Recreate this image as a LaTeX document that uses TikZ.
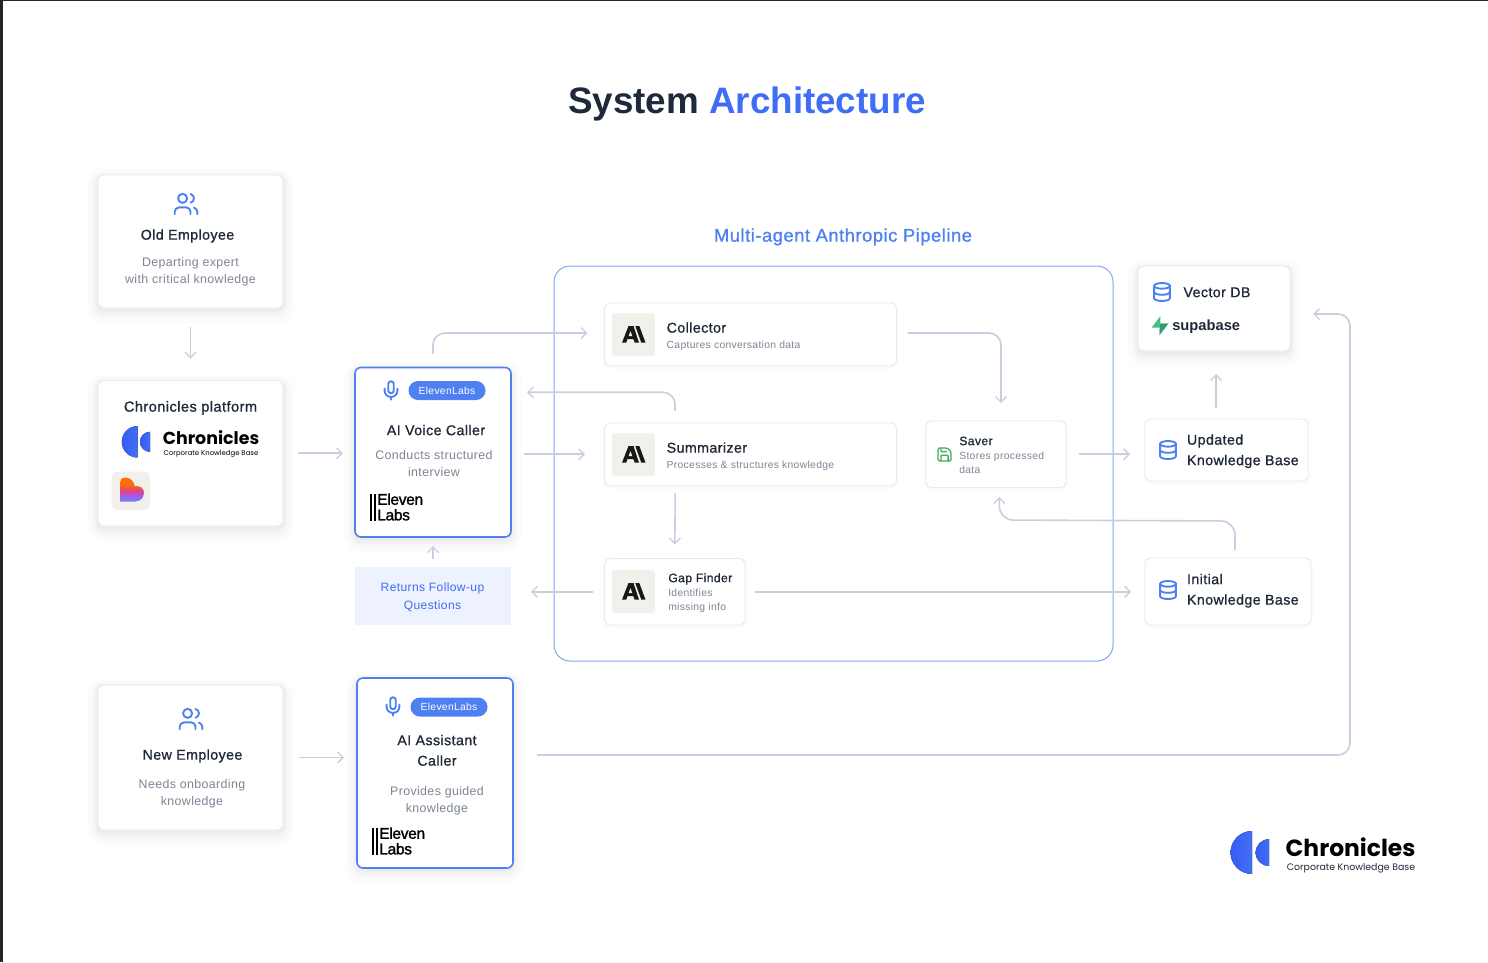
\documentclass[tikz,border=0pt]{standalone}
\usepackage{fontspec}
\usetikzlibrary{arrows.meta,calc}
\setmainfont{Liberation Sans}
\newfontfamily\bodyf[LetterSpace=3]{Liberation Sans}
\newfontfamily\medf[FakeBold=1,LetterSpace=3]{Liberation Sans}
\newfontfamily\elevenf[FakeBold=1.5,LetterSpace=-2]{Liberation Sans}
\newfontfamily\titlebase{Liberation Sans}
\newcommand{\titlef}{\titlebase\bfseries}
\newfontfamily\logobase{Poppins}
\newcommand{\logof}{\logobase\bfseries}
\newcommand{\logosub}{\logobase}
\definecolor{ink}{HTML}{1F2937}
\definecolor{titleink}{HTML}{1E293B}
\definecolor{muted}{HTML}{7C8594}
\definecolor{accent}{HTML}{3F6DF3}
\definecolor{brand}{HTML}{4F80F2}
\definecolor{cardline}{HTML}{E7EAF0}
\definecolor{wire}{HTML}{C8D0DF}
\definecolor{chip}{HTML}{F1F0EB}
\definecolor{savegreen}{HTML}{45AC5F}
\definecolor{heartA}{HTML}{F97008}
\definecolor{heartB}{HTML}{E8407F}
\definecolor{heartC}{HTML}{A05CE8}
\definecolor{heartD}{HTML}{6B82FA}
\definecolor{supaA}{HTML}{4CBB86}
\definecolor{supaB}{HTML}{2E9E6E}
\pgfdeclareverticalshading{heartshade}{100bp}{color(0bp)=(heartD);color(25bp)=(heartD);color(37bp)=(heartC);color(48bp)=(heartB);color(60bp)=(heartA);color(100bp)=(heartA)}
\newcommand{\fsz}[2]{\fontsize{#1}{#2}\selectfont}
\tikzset{
 softshadow/.style={
  preaction={draw=black,draw opacity=.012,line width=22pt,transform canvas={yshift=-5pt}},
  preaction={draw=black,draw opacity=.016,line width=14pt,transform canvas={yshift=-4pt}},
  preaction={draw=black,draw opacity=.022,line width=8pt,transform canvas={yshift=-3pt}},
  preaction={draw=black,draw opacity=.025,line width=3pt,transform canvas={yshift=-2pt}}},
 lightshadow/.style={
  preaction={draw=black,draw opacity=.015,line width=4pt,transform canvas={yshift=-1pt}}},
 box/.style={rectangle,rounded corners=6pt,inner sep=0pt,outer sep=0pt,fill=white,draw=cardline,line width=.9pt},
 bigcard/.style={box,softshadow},
 smallcard/.style={box,lightshadow},
 callercard/.style={box,softshadow,draw=brand,line width=1.6pt},
 txt/.style={inner sep=0pt,outer sep=0pt,anchor=mid},
 ltxt/.style={inner sep=0pt,outer sep=0pt,anchor=mid west},
 headc/.style={txt,text=ink,font=\medf\fsz{14.2}{20.5},align=center},
 headl/.style={ltxt,text=ink,font=\medf\fsz{14.2}{20.5},align=left},
 subc/.style={txt,text=muted,font=\bodyf\fsz{12.4}{17},align=center},
 tiny/.style={ltxt,text=muted,font=\bodyf\fsz{10.35}{13.8},align=left},
 wirearrow/.style={draw=wire,line width=1.6pt,-{Straight Barb[length=5.5pt,width=11pt,line width=1.4pt]}},
 iconline/.style={draw=brand,line width=1.9pt,line cap=round,line join=round,fill=none},
}
\newcommand{\usersicon}[2]{\begin{scope}[shift={(#1,#2)},x=1.13pt,y=-1.13pt,shift={(-12,-12)}]
 \draw[iconline] (9,7) circle[radius=4];
 \draw[iconline,rounded corners=4.4pt] (2,21)--(2,15)--(16,15)--(16,21);
 \draw[iconline] (16,3.13) .. controls (18,3.6) and (19,5.2) .. (19,7) .. controls (19,8.8) and (18,10.4) .. (16,10.87);
 \draw[iconline] (22,21)--(22,19) .. controls (22,17.2) and (20.8,16.1) .. (19,15.13);
\end{scope}}
\newcommand{\micicon}[2]{\begin{scope}[shift={(#1,#2)},x=.92pt,y=-.92pt,shift={(-12,-12)}]
 \draw[iconline,rounded corners=2.7pt] (9,2) rectangle (15,15);
 \draw[iconline] (19,10)--(19,12) .. controls (19,16) and (16,19) .. (12,19) .. controls (8,19) and (5,16) .. (5,12) -- (5,10);
 \draw[iconline] (12,19)--(12,22);
\end{scope}}
\newcommand{\dbicon}[2]{\begin{scope}[shift={(#1,#2)},x=.88pt,y=-.88pt,shift={(-12,-12)}]
 \draw[iconline] (12,5) ellipse[x radius=9,y radius=3.2];
 \draw[iconline] (3,5)--(3,19) .. controls (3,20.8) and (7,22.2) .. (12,22.2) .. controls (17,22.2) and (21,20.8) .. (21,19) -- (21,5);
 \draw[iconline] (3,12) .. controls (3,13.8) and (7,15.2) .. (12,15.2) .. controls (17,15.2) and (21,13.8) .. (21,12);
\end{scope}}
\newcommand{\saveicon}[2]{\begin{scope}[shift={(#1,#2)},x=.72pt,y=-.72pt,shift={(-12,-12)},every path/.style={draw=savegreen,line width=1.3pt,line join=round,line cap=round}]
 \draw[rounded corners=1.4pt] (3,3)--(16,3)--(21,8)--(21,21)--(3,21)--cycle;
 \draw[rounded corners=.7pt] (17,21)--(17,13)--(7,13)--(7,21);
 \draw[rounded corners=.7pt] (7,3)--(7,8)--(15,8);
\end{scope}}
\newcommand{\anthropic}[2]{\begin{scope}[shift={(#1,#2)}]
 \fill[chip,rounded corners=3pt] (-21.5,-21.5) rectangle (21.5,21.5);
 \fill[black!90!chip] (-11.5,8.2)--(-5,-8.5)--(0,-8.5)--(5.5,8.2)--(1.2,8.2)--(-.2,4.5)--(-6,4.5)--(-7.3,8.2)--cycle;
 \fill[chip] (-3,-3.2)--(-4.9,1.6)--(-1.2,1.6)--cycle;
 \fill[black!90!chip] (1.8,-8.5)--(5.8,-8.5)--(12,8.2)--(7.8,8.2)--cycle;
\end{scope}}
\newcommand{\halfdisc}[3]{\fill[left color=accent!85!blue,right color=accent!85!brand] (#1,#2-#3) arc[start angle=-90,end angle=-270,radius=#3] -- cycle;}
\newcommand{\elevenlogo}[2]{\begin{scope}[shift={(#1,#2)}]
 \fill[black] (0,0) rectangle (1.9,26.8);
 \fill[black] (3.6,0) rectangle (5.5,26.8);
 \node[ltxt,text=black,font=\elevenf\fsz{15.5}{15.6},align=left] at (7.3,23.7) {Eleven\\Labs};
\end{scope}}
\begin{document}
\begin{tikzpicture}[x=1pt,y=-1pt]
\useasboundingbox (0,0) rectangle (1488,962);
\fill[white] (0,0) rectangle (1488,962);
\fill[black!85] (0,0) rectangle (2.6,962);
\fill[black!85] (0,0) rectangle (1488,.9);

\node[txt,font=\titlef\fsz{36.8}{40}] (title) at (747,110.5) {\textcolor{titleink}{System} \textcolor{accent}{Architecture}};
\node[txt,font=\medf\fsz{18.3}{20},text=brand] (pipetitle) at (843,239) {Multi-agent Anthropic Pipeline};

\node[box,draw=brand!70,line width=1pt,rounded corners=16pt,minimum width=559pt,minimum height=395pt] (pipeline) at (833.5,463.5) {};

\node[bigcard,minimum width=185pt,minimum height=133pt] (old) at (190.5,241.5) {};
\node[bigcard,minimum width=185pt,minimum height=145.5pt] (plat) at (190.5,453.25) {};
\node[bigcard,minimum width=185pt,minimum height=145pt] (newe) at (190.5,757.5) {};
\node[callercard,minimum width=156pt,minimum height=169.5pt] (voice) at (433,452.25) {};
\node[callercard,minimum width=156pt,minimum height=190pt] (assist) at (435,773) {};
\node[rectangle,inner sep=0,outer sep=0,fill=brand!10,minimum width=156pt,minimum height=58pt] (returns) at (433,596) {};
\node[smallcard,minimum width=292pt,minimum height=63pt] (collector) at (750.5,334.5) {};
\node[smallcard,minimum width=292pt,minimum height=63pt] (summ) at (750.5,454.5) {};
\node[smallcard,minimum width=140.5pt,minimum height=66.5pt] (gap) at (674.75,591.75) {};
\node[smallcard,minimum width=140pt,minimum height=66.5pt] (saver) at (996,454.25) {};
\node[bigcard,minimum width=152pt,minimum height=85pt] (vector) at (1214,308.5) {};
\node[smallcard,minimum width=163pt,minimum height=62pt] (updated) at (1226.5,450) {};
\node[smallcard,minimum width=166pt,minimum height=67pt] (initial) at (1228,591.5) {};

% texts
\node[headc] (oldt) at (187.5,237) {Old Employee};
\node[subc] (olds) at (190.5,280.5) {Departing expert\\with critical knowledge};
\node[headc,font=\medf\fsz{14.6}{20}] (platt) at (190.5,409) {Chronicles platform};
\node[txt,font=\logof\fsz{17.4}{20}] (cl1) at (211,441.5) {Chronicles};
\node[txt,font=\logosub\fsz{6.95}{8}] (cl2) at (211,452.8) {Corporate Knowledge Base};
\node[headc] (voicet) at (436,432.5) {AI Voice Caller};
\node[subc] (voices) at (434,473.5) {Conducts structured\\interview};
\node[txt,text=accent,font=\bodyf\fsz{12.1}{17.2},align=center] (rett) at (432.5,606.5) {Returns Follow-up\\Questions};
\node[headc] (newt) at (192.5,757) {New Employee};
\node[subc] (news) at (192,803) {Needs onboarding\\knowledge};
\node[headc] (assistt) at (437,763) {AI Assistant\\Caller};
\node[subc] (assists) at (437,809.5) {Provides guided\\knowledge};
% badges
\node[rectangle,rounded corners=9.5pt,fill=brand,text=white,inner sep=0,minimum width=77pt,minimum height=19pt,font=\bodyf\fsz{10.3}{12}] (b1) at (447,390.5) {ElevenLabs};
\node[rectangle,rounded corners=9.5pt,fill=brand,text=white,inner sep=0,minimum width=77pt,minimum height=19pt,font=\bodyf\fsz{10.3}{12}] (b2) at (449,707) {ElevenLabs};
% pipeline texts
\node[headl] (ct) at (666.7,330) {Collector};
\node[tiny] (cs) at (666.7,346) {Captures conversation data};
\node[headl] (st) at (666.7,450) {Summarizer};
\node[tiny] (ss) at (666.7,466) {Processes \& structures knowledge};
\node[headl,font=\medf\fsz{12.2}{14}] (gt) at (668.3,579.5) {Gap Finder};
\node[tiny] (gs) at (668.3,608) {Identifies\\missing info};
\node[headl,font=\medf\fsz{12.2}{14}] (svt) at (959.3,442.5) {Saver};
\node[tiny] (svs) at (959.3,471) {Stores processed\\data};
\node[headl] (vt) at (1183.5,294.5) {Vector DB};
\node[ltxt,text=ink,font=\titlef\fsz{14.7}{16}] (supa) at (1172.3,327.5) {supabase};
\node[headl] (ut) at (1187,462.5) {Updated\\Knowledge Base};
\node[headl] (it) at (1187,602) {Initial\\Knowledge Base};
\node[txt,text=black,font=\logof\fsz{23.4}{26}] (cb1) at (1350.5,854) {Chronicles};
\node[txt,text=ink,font=\logosub\fsz{9.4}{11}] (cb2) at (1351,867.5) {Corporate Knowledge Base};

% icons
\usersicon{186}{204}
\usersicon{191}{719}
\micicon{391}{390.5}
\micicon{393}{706.5}
\dbicon{1162}{292}
\dbicon{1168}{450}
\dbicon{1168}{590}
\saveicon{944.5}{454.5}
\anthropic{633.5}{334.5}
\anthropic{633.5}{454.5}
\anthropic{633.5}{591.5}
\elevenlogo{370}{494}
\elevenlogo{372}{828}
\halfdisc{137.5}{441.8}{15.7}
\halfdisc{150}{441.8}{10}
\halfdisc{1252}{852.5}{21.5}
\halfdisc{1269}{852.6}{13.4}
\fill[chip,rounded corners=6pt] (111.7,471.7) rectangle (150,510);
\shade[shading=heartshade]
 (120,482.5) .. controls (120,479.5) and (122,477.5) .. (125,477.5) .. controls (130,477.5) and (134,481) .. (134.7,486) .. controls (139.5,485.5) and (144,488) .. (144,492.5) .. controls (144,498) and (140,501.5) .. (135,501.5) -- (120,501.5) -- cycle;
\fill[supaA] (1160.5,316) -- (1160.2,323.5) -- (1168.3,323.5) -- (1159.5,335) -- (1159.8,327.5) -- (1151.7,327.5) -- cycle;
\fill[supaB] (1160.2,323.5) -- (1168.3,323.5) -- (1159.5,335) -- (1159.8,327.5) -- cycle;

% connectors
\draw[wirearrow,shorten <=19pt,shorten >=22pt] (old) -- (plat);
\draw[wirearrow,shorten <=15pt,shorten >=12pt] (plat.east) -- (plat.east -| voice.west);
\draw[wirearrow,rounded corners=12pt,shorten <=14pt,shorten >=17pt] (voice.north) |- ([yshift=1.5pt]collector.west);
\draw[wirearrow,rounded corners=12pt,shorten <=12pt,shorten >=16pt] ([xshift=-75.5pt]summ.north) |- ([yshift=60pt]voice.east);
\draw[wirearrow,shorten <=13pt,shorten >=19.5pt] ([yshift=-2pt]voice.east) -- ([yshift=-2pt]voice.east -| summ.west);
\draw[wirearrow,shorten <=7pt,shorten >=14pt] ([xshift=-75.25pt]summ.south) -- (gap.north);
\draw[wirearrow,shorten <=11.5pt,shorten >=20pt] (gap.west) -- (gap.west -| returns.east);
\draw[wirearrow,shorten <=8pt,shorten >=9pt] (returns.north) -- (returns.north |- voice.south);
\draw[wirearrow,shorten <=10pt,shorten >=14pt] (gap.east) -- (gap.east -| initial.west);
\coordinate (sv1) at (1235,521);
\coordinate (sv2) at (999.3,520);
\draw[wirearrow,rounded corners=14pt,shorten <=8pt,shorten >=9.5pt] ([xshift=7pt]initial.north) -- (sv1) -- (sv2) -- ([xshift=3.3pt]saver.south);
\draw[wirearrow,rounded corners=12pt,shorten <=11pt,shorten >=18pt] ([yshift=1.5pt]collector.east) -| ([xshift=5pt]saver.north);
\draw[wirearrow,shorten <=13pt,shorten >=15pt] (saver.east) -- (saver.east -| updated.west);
\draw[wirearrow,shorten <=11pt,shorten >=23pt] ([xshift=-10.5pt]updated.north) -- ([xshift=2pt]vector.south);
\draw[wirearrow,shorten <=16pt,shorten >=13pt] (newe.east) -- (newe.east -| assist.west);
\coordinate (rail) at (1350,755);
\coordinate (railtop) at (1350,314);
\draw[wirearrow,rounded corners=12pt,shorten <=24pt,shorten >=23pt] ([yshift=18pt]assist.east) -- (rail) -- (railtop) -- ([yshift=-5.5pt]vector.east);
\end{tikzpicture}
\end{document}
